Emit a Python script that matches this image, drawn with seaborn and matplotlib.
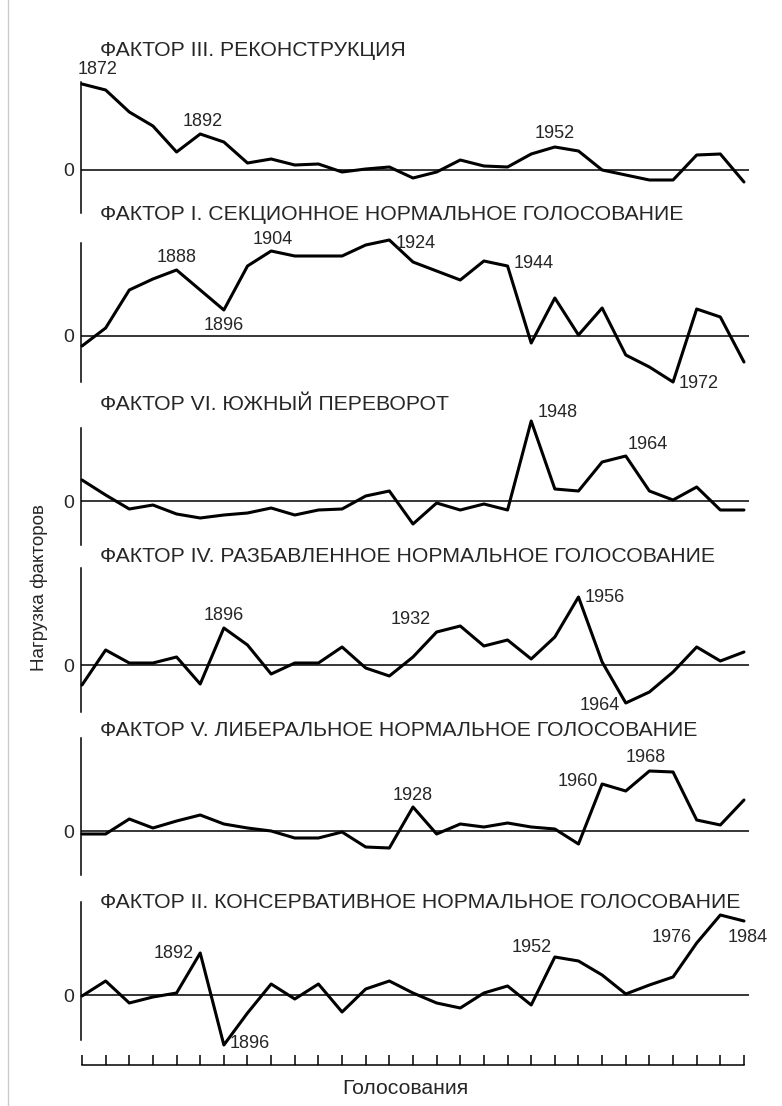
import matplotlib
matplotlib.use("Agg")
import matplotlib.pyplot as plt
from matplotlib.lines import Line2D
import seaborn as sns

# election years, one point every 4 years
years = list(range(1872, 1985, 4))

titles = [
    "ФАКТОР III. РЕКОНСТРУКЦИЯ",
    "ФАКТОР I. СЕКЦИОННОЕ НОРМАЛЬНОЕ ГОЛОСОВАНИЕ",
    "ФАКТОР VI. ЮЖНЫЙ ПЕРЕВОРОТ",
    "ФАКТОР IV. РАЗБАВЛЕННОЕ НОРМАЛЬНОЕ ГОЛОСОВАНИЕ",
    "ФАКТОР V. ЛИБЕРАЛЬНОЕ НОРМАЛЬНОЕ ГОЛОСОВАНИЕ",
    "ФАКТОР II. КОНСЕРВАТИВНОЕ НОРМАЛЬНОЕ ГОЛОСОВАНИЕ",
]

factor_3 = [0.86, 0.80, 0.58, 0.44, 0.18, 0.36, 0.28, 0.07, 0.11, 0.05, 0.06, -0.02, 0.01, 0.03, -0.08,
            -0.02, 0.10, 0.04, 0.03, 0.16, 0.23, 0.19, 0.00, -0.05, -0.10, -0.10, 0.15, 0.16, -0.12]
factor_1 = [-0.10, 0.08, 0.46, 0.57, 0.66, 0.46, 0.26, 0.70, 0.85, 0.80, 0.80, 0.80, 0.91, 0.96, 0.74,
            0.65, 0.56, 0.75, 0.70, -0.07, 0.38, 0.01, 0.28, -0.19, -0.31, -0.46, 0.27, 0.19, -0.26]
factor_6 = [0.21, 0.06, -0.08, -0.04, -0.13, -0.17, -0.14, -0.12, -0.07, -0.14, -0.09, -0.08, 0.05, 0.10, -0.23,
            -0.02, -0.09, -0.03, -0.09, 0.80, 0.12, 0.10, 0.39, 0.45, 0.10, 0.01, 0.14, -0.09, -0.09]
factor_4 = [-0.20, 0.15, 0.02, 0.02, 0.08, -0.19, 0.37, 0.20, -0.09, 0.02, 0.02, 0.18, -0.03, -0.11, 0.08,
            0.33, 0.39, 0.19, 0.25, 0.06, 0.28, 0.68, 0.03, -0.38, -0.27, -0.07, 0.18, 0.04, 0.13]
factor_5 = [-0.03, -0.03, 0.12, 0.03, 0.10, 0.16, 0.07, 0.03, 0.00, -0.07, -0.07, -0.01, -0.16, -0.17, 0.24,
            -0.03, 0.07, 0.04, 0.08, 0.04, 0.02, -0.13, 0.47, 0.40, 0.60, 0.59, 0.11, 0.06, 0.31]
factor_2 = [-0.01, 0.14, -0.08, -0.02, 0.02, 0.42, -0.50, -0.18, 0.11, -0.04, 0.11, -0.17, 0.06, 0.14, 0.02,
            -0.08, -0.13, 0.02, 0.09, -0.10, 0.38, 0.34, 0.20, 0.01, 0.10, 0.18, 0.52, 0.80, 0.74]
series = [factor_3, factor_1, factor_6, factor_4, factor_5, factor_2]

# year labels per panel: (year, dx px, dy px, ha)
labels = [
    [(1872, 16, 14, "center"), (1892, 2, 12, "center"), (1952, 0, 13, "center")],
    [(1888, 0, 13, "center"), (1896, 0, -15, "center"), (1904, 2, 11, "center"),
     (1924, 6, -3, "left"), (1944, 6, 2, "left"), (1972, 6, -2, "left")],
    [(1948, 6, 9, "left"), (1964, 2, 12, "left")],
    [(1896, 0, 12, "center"), (1932, -6, 12, "right"), (1956, 6, -1, "left"), (1964, -6, -2, "right")],
    [(1928, 0, 12, "center"), (1960, -4, 3, "right"), (1968, -4, 14, "center")],
    [(1892, -6, -1, "right"), (1896, 6, 2, "left"), (1952, -3, 10, "right"),
     (1976, -5, 5, "right"), (1984, 4, -17, "center")],
]

W, H = 782, 1106
# panel layout in pixels: spine top, spine bottom, zero line
panels = [(82, 213, 170), (243, 382, 336), (428, 545, 501),
          (568, 712, 665), (738, 875, 831), (902, 1040, 995)]
title_y = [50, 215, 405, 557, 730, 902]
x_left, x_right = 81, 749
xlim = (1871.83, 1984.85)

sns.set_style("white")
fam = ["Liberation Sans", "DejaVu Sans"]
plt.rcParams["font.family"] = fam

fig = plt.figure(figsize=(W / 100, H / 100), dpi=100)

for i, (top, bot, zero) in enumerate(panels):
    ax = fig.add_axes([x_left / W, 1 - bot / H, (x_right - x_left) / W, (bot - top) / H])
    sns.lineplot(x=years, y=series[i], ax=ax, color="black", lw=2.2, clip_on=False)
    ax.axhline(0, color="black", lw=1.1, zorder=1)
    ax.set_xlim(*xlim)
    ax.set_ylim((zero - bot) / 100, (zero - top) / 100)
    ax.set_xticks([])
    ax.set_yticks([0])
    ax.set_yticklabels(["0"], fontsize=14)
    ax.tick_params(axis="y", length=0, pad=5)
    ax.set_xlabel("")
    ax.set_ylabel("")
    for s in ["top", "right", "bottom"]:
        ax.spines[s].set_visible(False)
    ax.spines["left"].set_color("black")
    ax.spines["left"].set_linewidth(1.1)
    ax.patch.set_alpha(0)

    for yr, dx, dy, ha in labels[i]:
        yv = series[i][years.index(yr)]
        ax.annotate(str(yr), (yr, yv), xytext=(dx, dy), textcoords="offset pixels",
                    ha=ha, va="center", fontsize=13, annotation_clip=False)

    fig.text(100 / W, 1 - title_y[i] / H, titles[i], fontsize=15.3, va="center", ha="left")

# election tick ruler at the bottom
rax = fig.add_axes([x_left / W, 1 - 1065 / H, (x_right - x_left) / W, 10 / H])
rax.set_xlim(*xlim)
rax.set_ylim(0, 1)
rax.set_xticks(years)
rax.set_xticklabels([])
rax.set_yticks([])
rax.tick_params(axis="x", direction="in", length=7.5, width=1.1, color="black", bottom=True)
for s in ["top", "right", "left"]:
    rax.spines[s].set_visible(False)
rax.spines["bottom"].set_bounds(1872, 1984)
rax.spines["bottom"].set_color("black")
rax.spines["bottom"].set_linewidth(1.1)
rax.patch.set_alpha(0)

fig.text(405 / W, 1 - 1088 / H, "Голосования", fontsize=15.3, ha="center", va="center")
fig.text(39 / W, 1 - 588 / H, "Нагрузка факторов", rotation=90, fontsize=13.5,
         ha="center", va="center")

# faint page edge on the left
fig.add_artist(Line2D([8 / W, 8 / W], [0, 1], color="#cccccc", lw=1))

fig.savefig("out.png", dpi=100)
